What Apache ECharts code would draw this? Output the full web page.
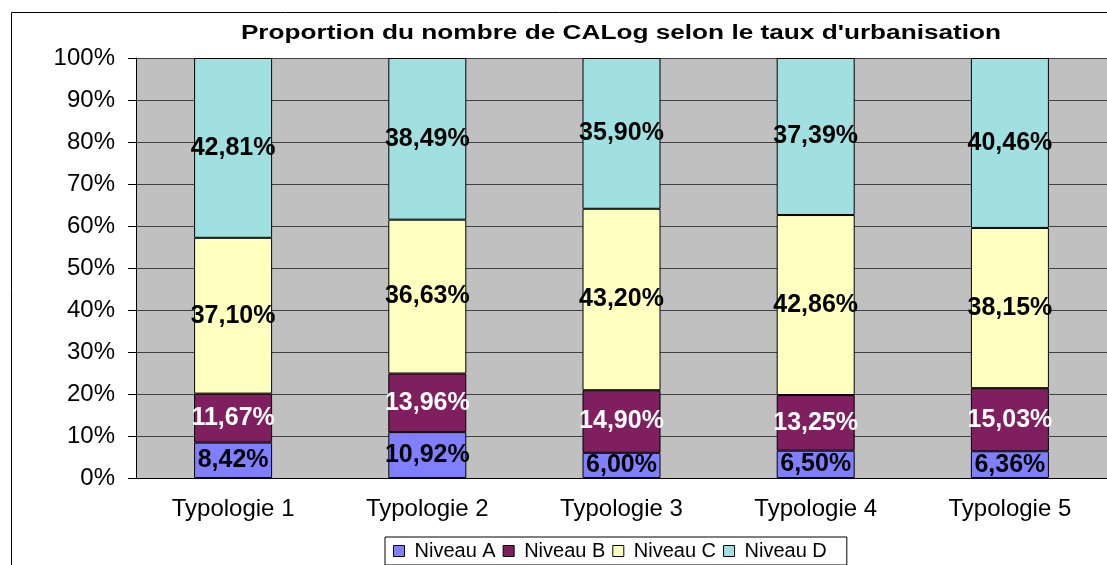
<!DOCTYPE html>
<html><head><meta charset="utf-8">
<script src="https://cdn.jsdelivr.net/npm/echarts@6/dist/echarts.min.js"></script>
<style>html,body{margin:0;padding:0;background:#fff}#c{width:1107px;height:565px}</style>
</head><body><div id="c"></div>
<script>
const categories = ['Typologie 1','Typologie 2','Typologie 3','Typologie 4','Typologie 5'];
const niveauA = [8.42, 10.92, 6.00, 6.50, 6.36];
const niveauB = [11.67, 13.96, 14.90, 13.25, 15.03];
const niveauC = [37.10, 36.63, 43.20, 42.86, 38.15];
const niveauD = [42.81, 38.49, 35.90, 37.39, 40.46];
const seriesNames = ['Niveau A','Niveau B','Niveau C','Niveau D'];
const yTicks = [0,10,20,30,40,50,60,70,80,90,100];
const titleText = 'Proportion du nombre de CALog selon le taux d\'urbanisation';

const FONT = 'Liberation Sans, Arial, sans-serif';
const colors = ['#8080FF','#7F1F5F','#FFFFC0','#A0E0E0'];
const labelColors = ['#000','#fff','#000','#000'];
const fmt = p => p.value.toFixed(2).replace('.', ',') + '%';
const chart = echarts.init(document.getElementById('c'), null, {renderer:'canvas'});
const datasets = [niveauA, niveauB, niveauC, niveauD];
chart.setOption({
  animation:false,
  textStyle:{fontFamily:FONT},
  graphic:[
    {type:'rect', shape:{x:11.5,y:12.5,width:1200,height:700}, style:{fill:null, stroke:'#000', lineWidth:1}, silent:true, z:-1},
    {type:'text', x:621, y:33, scaleX:1.31, originX:0, originY:0, z:10,
      style:{text:titleText, font:'bold 20px ' + FONT, fill:'#000', textAlign:'center', textVerticalAlign:'middle'}}
  ],
  legend:{top:537, left:385, itemWidth:11, itemHeight:11, itemGap:7, padding:[4,20,4,8],
    borderColor:'#000', borderWidth:1, backgroundColor:'#fff', icon:'rect',
    textStyle:{fontSize:20, color:'#000', fontFamily:FONT, padding:[0,2,0,5]},
    data:seriesNames.map((n,i)=>({name:n, itemStyle:{borderColor:'#000', borderWidth:1}}))},
  grid:{left:136, top:58, width:982, height:420, backgroundColor:'#C0C0C0', show:true, borderWidth:0},
  xAxis:{type:'category', data:categories,
    axisLine:{lineStyle:{color:'#000'}}, axisTick:{length:6, lineStyle:{color:'#000'}},
    axisLabel:{fontSize:24, color:'#000', margin:19, fontFamily:FONT}},
  yAxis:{type:'value', min:0, max:100, interval:10,
    axisLine:{show:true, lineStyle:{color:'#000'}}, axisTick:{show:true, length:8, lineStyle:{color:'#000'}},
    splitLine:{lineStyle:{color:'#404040', width:1}},
    axisLabel:{fontSize:24, color:'#000', margin:21, fontFamily:FONT,
      customValues:yTicks, formatter:v=>v+'%'}},
  series: datasets.map((d,i)=>({
    name:seriesNames[i], type:'bar', stack:'total', data:d, barWidth:78,
    itemStyle:{color:colors[i], borderColor:'#000', borderWidth:1},
    label:{show:true, position:'inside', formatter:fmt, fontSize:25, fontWeight:'bold', color:labelColors[i],
      fontFamily:FONT, overflow:'none'},
    labelLayout:{hideOverlap:false}
  }))
});
</script></body></html>
